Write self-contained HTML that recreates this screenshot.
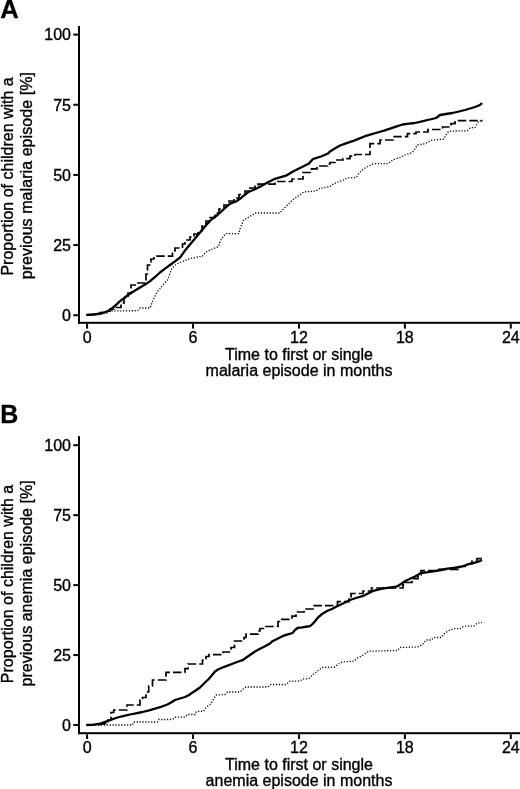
<!DOCTYPE html>
<html><head><meta charset="utf-8"><title>Figure</title>
<style>html,body{margin:0;padding:0;background:#fff}svg{display:block;filter:grayscale(1)}text{font-family:"Liberation Sans",sans-serif;font-size:16px;fill:#000;stroke:#000;stroke-width:0.35px}</style>
</head><body>
<svg width="520" height="789" viewBox="0 0 520 789">
<rect width="520" height="789" fill="#fff"/>
<rect x="78" y="26" width="2" height="297.8" fill="#000"/>
<rect x="78" y="321.8" width="442" height="2" fill="#000"/>
<rect x="73.3" y="314.25" width="5" height="2" fill="#000"/>
<text x="71" y="321.05" text-anchor="end">0</text>
<rect x="73.3" y="244.09" width="5" height="2" fill="#000"/>
<text x="71" y="250.89" text-anchor="end">25</text>
<rect x="73.3" y="173.93" width="5" height="2" fill="#000"/>
<text x="71" y="180.73" text-anchor="end">50</text>
<rect x="73.3" y="103.76" width="5" height="2" fill="#000"/>
<text x="71" y="110.56" text-anchor="end">75</text>
<rect x="73.3" y="33.60" width="5" height="2" fill="#000"/>
<text x="71" y="40.40" text-anchor="end">100</text>
<rect x="86.10" y="323.8" width="2" height="4.8" fill="#000"/>
<text x="87.10" y="343.2" text-anchor="middle">0</text>
<rect x="192.03" y="323.8" width="2" height="4.8" fill="#000"/>
<text x="193.03" y="343.2" text-anchor="middle">6</text>
<rect x="297.95" y="323.8" width="2" height="4.8" fill="#000"/>
<text x="298.95" y="343.2" text-anchor="middle">12</text>
<rect x="403.88" y="323.8" width="2" height="4.8" fill="#000"/>
<text x="404.88" y="343.2" text-anchor="middle">18</text>
<rect x="509.80" y="323.8" width="2" height="4.8" fill="#000"/>
<text x="510.80" y="343.2" text-anchor="middle">24</text>
<text x="299.0" y="359.6" text-anchor="middle">Time to first or single</text>
<text x="299.0" y="375.8" text-anchor="middle">malaria episode in months</text>
<text transform="translate(13.3,176.4) rotate(-90)" text-anchor="middle">Proportion of children with a</text>
<text transform="translate(31.7,175.7) rotate(-90)" text-anchor="middle" textLength="207.3" lengthAdjust="spacing">previous malaria episode [%]</text>
<text x="0.2" y="17.7" style="font-size:25.6px;font-weight:bold;stroke:#000;stroke-width:0.3px">A</text>
<path d="M86.5,314.8 L100.0,314.5 L104.0,313.0 L108.0,313.0 L110.0,311.0 L137.5,310.7 L140.0,308.0 L150.0,308.0 L152.0,303.0 L154.0,298.0 L156.0,294.0 L158.0,291.0 L160.0,288.7 L163.0,285.0 L167.5,280.0 L169.5,275.0 L171.0,270.0 L173.7,266.2 L177.0,264.0 L180.0,262.5 L185.0,260.5 L190.0,258.7 L196.0,257.3 L202.5,256.2 L205.0,252.7 L208.0,251.0 L212.0,249.2 L218.5,246.6 L219.5,243.0 L221.4,238.8 L223.5,236.0 L225.7,233.7 L238.7,233.7 L240.0,229.0 L241.5,225.0 L243.7,220.0 L248.0,217.5 L252.5,215.0 L255.0,213.0 L280.0,213.0 L282.5,210.0 L285.0,207.5 L289.0,203.5 L292.5,200.0 L297.5,196.5 L301.0,194.0 L304.0,191.9 L316.0,191.0 L319.6,188.3 L325.0,187.6 L330.0,186.5 L333.7,183.7 L338.0,182.0 L342.5,180.5 L347.5,178.0 L356.0,177.5 L358.5,174.0 L361.0,171.2 L365.0,168.0 L371.0,165.0 L373.7,163.7 L387.5,163.7 L390.0,162.0 L392.5,160.0 L396.0,158.7 L400.0,157.5 L405.0,155.0 L412.5,152.5 L415.0,148.5 L417.5,145.0 L425.0,143.7 L428.5,141.8 L432.5,140.0 L443.7,139.2 L446.0,135.0 L448.7,131.2 L467.5,130.7 L470.0,128.0 L475.0,127.5 L477.0,124.0 L478.7,121.2 L482.5,120.7" fill="none" stroke="#000" stroke-width="1.3" stroke-dasharray="1.2 1.7"/>
<path d="M86.5,314.8 L98.0,314.5 L100.0,312.5 L105.0,312.3 L105.0,311.2 L110.0,311.0 L110.0,309.0 L114.0,309.0 L114.0,307.5 L121.0,307.5 L121.0,303.0 L124.0,303.0 L124.0,298.0 L128.0,298.0 L128.0,293.0 L131.0,293.0 L131.0,285.0 L137.0,285.0 L137.0,283.0 L146.0,283.0 L146.0,274.0 L147.5,274.0 L147.5,265.0 L151.0,265.0 L151.0,259.0 L154.0,259.0 L154.0,256.2 L172.5,256.2 L172.5,251.0 L175.0,251.0 L175.0,248.0 L182.5,248.0 L182.5,244.0 L185.0,244.0 L185.0,240.0 L190.0,240.0 L190.0,237.0 L194.0,237.0 L194.0,234.0 L198.0,234.0 L198.0,231.0 L202.0,231.0 L202.0,226.0 L206.0,226.0 L206.0,221.0 L210.0,221.0 L210.0,217.5 L215.0,217.5 L215.0,213.0 L219.0,213.0 L219.0,209.0 L224.0,209.0 L224.0,205.0 L229.0,205.0 L229.0,201.0 L234.0,201.0 L234.0,198.0 L239.0,198.0 L239.0,194.5 L245.0,194.5 L245.0,191.0 L250.0,191.0 L250.0,188.0 L255.0,188.0 L255.0,185.0 L258.0,185.0 L258.0,184.1 L275.0,184.1 L275.0,181.5 L292.0,181.5 L292.0,179.0 L303.0,179.0 L303.0,172.5 L311.5,172.5 L311.5,168.9 L317.0,168.9 L317.0,166.0 L327.5,166.0 L327.5,164.0 L330.0,164.0 L330.0,162.5 L335.0,162.5 L335.0,160.0 L343.0,160.0 L343.0,158.7 L350.0,158.7 L350.0,156.2 L355.0,156.2 L355.0,154.5 L370.0,154.5 L370.0,143.7 L380.0,143.7 L380.0,140.0 L393.0,140.0 L393.0,136.7 L407.5,136.7 L407.5,133.7 L416.0,133.7 L416.0,132.0 L428.0,132.0 L428.0,129.5 L442.5,129.5 L442.5,127.0 L451.0,127.0 L451.0,123.7 L455.0,123.7 L455.0,120.7 L482.5,120.7" fill="none" stroke="#000" stroke-width="1.7" stroke-dasharray="8.5 3"/>
<path d="M86.5,314.8 L93.0,314.5 L100.0,313.7 L105.0,312.3 L110.0,310.0 L115.0,305.8 L120.0,301.2 L125.0,297.3 L130.0,293.7 L135.0,290.5 L140.0,287.5 L145.0,284.6 L150.0,281.2 L155.0,277.0 L160.0,272.5 L165.0,268.6 L170.0,265.0 L175.0,261.4 L180.0,257.5 L185.0,250.6 L190.0,244.6 L195.0,238.5 L200.0,232.5 L205.0,226.6 L211.0,219.8 L217.5,215.0 L224.0,209.0 L230.0,203.7 L236.0,201.5 L240.0,198.8 L242.5,196.6 L249.0,191.7 L255.0,189.3 L261.0,186.2 L267.5,182.5 L274.0,179.2 L280.0,177.4 L286.0,175.7 L292.5,171.7 L297.0,169.5 L302.5,166.8 L309.0,163.5 L312.7,159.3 L315.0,158.3 L321.0,156.5 L327.5,153.8 L330.0,151.5 L334.0,149.0 L340.0,145.5 L346.0,143.3 L352.5,141.2 L359.0,138.6 L365.0,136.2 L371.0,134.3 L377.5,132.5 L384.0,130.6 L390.0,128.7 L396.0,126.6 L402.5,124.5 L409.0,123.6 L415.0,123.0 L421.0,121.6 L427.5,120.0 L432.0,119.0 L436.0,118.0 L440.0,115.0 L446.0,114.0 L452.5,113.0 L459.0,111.5 L465.0,110.0 L470.0,108.5 L475.0,107.0 L480.0,105.0 L482.0,103.0" fill="none" stroke="#000" stroke-width="2.3" stroke-linejoin="round"/>
<rect x="78" y="436.2" width="2" height="298.0" fill="#000"/>
<rect x="78" y="732.2" width="442" height="2" fill="#000"/>
<rect x="73.3" y="724.05" width="5" height="2" fill="#000"/>
<text x="71" y="730.85" text-anchor="end">0</text>
<rect x="73.3" y="654.09" width="5" height="2" fill="#000"/>
<text x="71" y="660.89" text-anchor="end">25</text>
<rect x="73.3" y="584.12" width="5" height="2" fill="#000"/>
<text x="71" y="590.92" text-anchor="end">50</text>
<rect x="73.3" y="514.16" width="5" height="2" fill="#000"/>
<text x="71" y="520.96" text-anchor="end">75</text>
<rect x="73.3" y="444.20" width="5" height="2" fill="#000"/>
<text x="71" y="451.00" text-anchor="end">100</text>
<rect x="86.10" y="734.2" width="2" height="4.8" fill="#000"/>
<text x="87.10" y="752.7" text-anchor="middle">0</text>
<rect x="192.03" y="734.2" width="2" height="4.8" fill="#000"/>
<text x="193.03" y="752.7" text-anchor="middle">6</text>
<rect x="297.95" y="734.2" width="2" height="4.8" fill="#000"/>
<text x="298.95" y="752.7" text-anchor="middle">12</text>
<rect x="403.88" y="734.2" width="2" height="4.8" fill="#000"/>
<text x="404.88" y="752.7" text-anchor="middle">18</text>
<rect x="509.80" y="734.2" width="2" height="4.8" fill="#000"/>
<text x="510.80" y="752.7" text-anchor="middle">24</text>
<text x="299.0" y="769.8" text-anchor="middle">Time to first or single</text>
<text x="299.0" y="785.6" text-anchor="middle">anemia episode in months</text>
<text transform="translate(13.3,584.0) rotate(-90)" text-anchor="middle">Proportion of children with a</text>
<text transform="translate(31.7,583.4) rotate(-90)" text-anchor="middle" textLength="206.1" lengthAdjust="spacing">previous anemia episode [%]</text>
<text x="0.3" y="423.4" style="font-size:25px;font-weight:bold;stroke:#000;stroke-width:0.3px">B</text>
<path d="M86.5,725.0 L132.5,725.0 L133.7,722.0 L157.5,722.0 L158.7,719.5 L172.5,719.5 L175.0,717.3 L185.0,717.0 L187.5,714.5 L195.0,714.5 L196.5,711.5 L203.7,711.2 L206.0,707.5 L211.0,703.7 L213.7,698.7 L216.0,695.0 L225.0,694.5 L227.5,692.0 L240.0,692.0 L243.7,688.7 L246.0,687.0 L267.5,687.0 L271.0,684.5 L286.0,684.5 L290.0,681.2 L300.0,681.0 L302.5,679.0 L308.7,678.7 L312.5,675.0 L317.5,671.0 L322.5,667.5 L335.0,667.0 L337.5,664.5 L342.5,662.0 L353.7,661.2 L357.5,658.0 L362.5,655.5 L368.7,651.2 L397.5,650.5 L400.0,647.5 L417.5,647.0 L422.5,644.5 L426.2,640.0 L431.2,640.0 L433.7,637.5 L441.2,637.5 L445.0,633.0 L450.0,630.0 L453.7,628.7 L460.0,628.7 L463.7,626.2 L473.7,626.2 L477.5,623.0 L482.0,622.5" fill="none" stroke="#000" stroke-width="1.3" stroke-dasharray="1.2 1.7"/>
<path d="M86.5,725.0 L100.0,724.5 L105.0,723.7 L108.0,723.7 L108.0,720.0 L111.0,720.0 L111.0,712.5 L113.7,712.5 L113.7,710.0 L127.0,710.0 L127.0,705.0 L140.0,705.0 L140.0,700.0 L142.5,700.0 L142.5,697.5 L146.0,697.5 L146.0,692.0 L148.7,692.0 L148.7,686.0 L152.5,686.0 L152.5,680.0 L166.0,680.0 L166.0,672.3 L185.0,672.3 L185.0,668.7 L188.0,668.7 L188.0,664.0 L202.5,664.0 L202.5,660.0 L206.0,660.0 L206.0,656.5 L209.0,656.5 L209.0,654.7 L223.0,654.7 L223.0,652.0 L231.0,652.0 L231.0,647.5 L234.5,647.5 L234.5,641.0 L244.0,641.0 L244.0,637.5 L246.0,637.5 L246.0,634.2 L258.0,634.2 L258.0,631.0 L260.0,631.0 L260.0,628.5 L266.0,628.5 L266.0,626.5 L278.0,626.5 L278.0,621.5 L281.0,621.5 L281.0,619.3 L292.0,619.3 L292.0,616.2 L296.0,616.2 L296.0,612.0 L304.0,612.0 L304.0,609.0 L313.0,609.0 L313.0,605.7 L337.5,605.7 L337.5,601.7 L349.0,601.7 L349.0,597.0 L351.0,597.0 L351.0,593.5 L363.0,593.5 L363.0,591.0 L371.5,591.0 L371.5,588.0 L403.0,588.0 L403.0,584.5 L406.0,584.5 L406.0,582.5 L412.0,582.5 L412.0,578.7 L418.0,578.7 L418.0,575.0 L421.0,575.0 L421.0,570.7 L436.0,570.7 L436.0,569.3 L458.0,569.3 L458.0,566.5 L465.0,566.5 L465.0,564.0 L472.0,564.0 L472.0,561.0 L477.0,561.0 L477.0,558.7 L482.5,558.7" fill="none" stroke="#000" stroke-width="1.7" stroke-dasharray="8.5 3"/>
<path d="M86.5,725.0 L94.0,724.7 L100.0,723.7 L107.5,721.2 L112.0,719.3 L117.5,717.5 L124.0,715.8 L130.0,714.5 L136.0,713.3 L142.5,712.0 L149.0,710.4 L155.0,708.7 L161.0,706.8 L167.5,704.5 L171.0,702.5 L175.0,700.0 L180.0,698.5 L185.0,697.0 L189.0,695.0 L192.5,692.5 L196.0,690.3 L200.0,687.5 L202.5,685.0 L205.0,682.5 L208.7,679.0 L210.0,677.5 L212.5,674.5 L215.0,671.5 L218.0,669.5 L222.5,667.5 L227.0,665.8 L232.5,663.7 L237.0,662.0 L242.5,660.2 L246.0,657.8 L250.0,655.0 L255.0,651.5 L260.0,648.7 L265.0,646.2 L270.0,643.5 L272.5,641.2 L277.5,638.7 L282.5,636.2 L287.0,634.6 L292.5,633.0 L295.0,630.0 L297.5,628.0 L302.0,627.4 L307.5,626.5 L310.0,626.2 L312.5,624.0 L315.0,621.2 L318.0,617.5 L322.5,613.7 L327.0,611.0 L332.5,608.7 L337.0,606.3 L342.5,603.7 L346.0,602.0 L350.0,600.0 L356.0,598.0 L362.5,596.2 L367.0,594.0 L372.5,591.2 L377.0,589.8 L382.5,588.7 L389.0,587.7 L395.0,587.0 L397.5,586.2 L401.0,584.0 L405.0,581.2 L410.0,578.7 L415.0,576.5 L418.0,574.8 L421.0,573.0 L428.0,572.2 L435.0,571.2 L441.0,570.0 L447.5,568.7 L454.0,567.8 L460.0,567.0 L465.0,565.5 L470.0,563.7 L474.0,562.8 L477.5,562.0 L480.0,561.0 L482.0,560.0" fill="none" stroke="#000" stroke-width="2.3" stroke-linejoin="round"/>
</svg>
</body></html>
